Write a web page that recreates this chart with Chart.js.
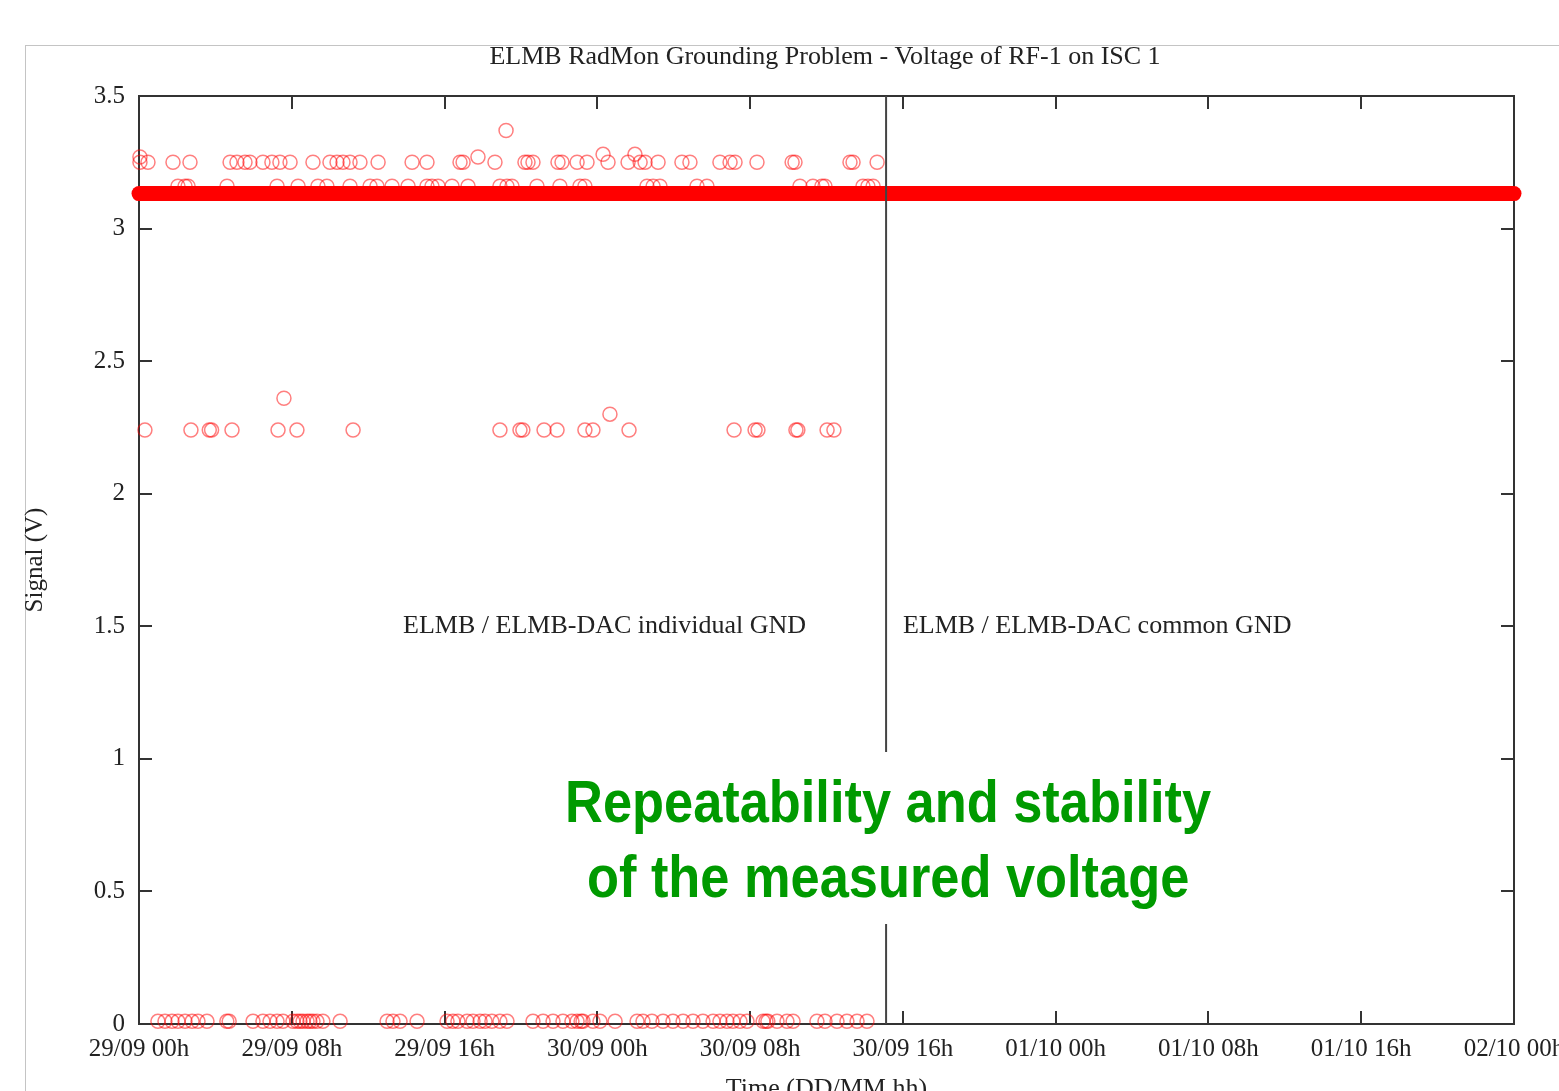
<!DOCTYPE html>
<html>
<head>
<meta charset="utf-8">
<script src="https://cdn.jsdelivr.net/npm/chart.js@4.4.0/dist/chart.umd.min.js"></script>
<style>
html,body{margin:0;padding:0;background:#fff;overflow:hidden;width:1559px;height:1091px;}
#frame{position:absolute;left:25px;top:45px;width:1600px;height:1100px;border-left:1px solid #c4c4c4;border-top:1px solid #c4c4c4;}
#cv{position:absolute;left:0;top:0;}
#note{position:absolute;left:555px;top:752px;width:666px;height:172px;background:#fff;}
.gl{position:absolute;left:455px;width:866px;text-align:center;color:#009a00;font-family:"Liberation Sans Narrow","Liberation Sans",Arial,sans-serif;font-size:60px;font-weight:bold;line-height:75px;white-space:nowrap;}
.gl span{display:inline-block;transform-origin:50% 50%;}
</style>
</head>
<body>
<div id="frame"></div>
<canvas id="cv" width="1559" height="1091"></canvas>
<div id="note"></div>
<div class="gl" style="top:764px"><span>Repeatability and stability</span></div>
<div class="gl" style="top:839px"><span>of the measured voltage</span></div>
<script>
// ---------- text ----------
const chartTitle = "ELMB RadMon Grounding Problem - Voltage of RF-1 on ISC 1";
const yAxisTitle = "Signal (V)";
const xAxisTitle = "Time (DD/MM hh)";
const regionLabels = ["ELMB / ELMB-DAC individual GND", "ELMB / ELMB-DAC common GND"];
// x tick labels (one every 8 h, starting 29/09 00h)
const xTickLabels = ["29/09 00h","29/09 08h","29/09 16h","30/09 00h","30/09 08h","30/09 16h","01/10 00h","01/10 08h","01/10 16h","02/10 00h"];
// y tick labels (one every 0.5 V, starting 0)
const yTickLabels = ["0","0.5","1","1.5","2","2.5","3","3.5"];

// ---------- data (time in hours since 29/09 00h, signal in V) ----------
// steady reading (dense band of points)
const steadyHours = [0, 72];
const steadyVolts = [3.132, 3.132];
// hour at which grounding changed from individual to common
const groundSwitchHour = [39.12, 39.12];
const groundSwitchVolts = [0, 3.5];

const highHours = [0.05,0.47,1.78,2.67,4.77,5.13,5.55,5.81,6.49,6.96,7.38,7.91,9.11,10.00,10.37,10.68,11.05,11.57,12.52,14.30,15.08,16.81,16.97,18.64,20.21,20.37,20.63,21.94,22.15,22.94,23.46,24.56,25.61,26.24,26.50,27.18,28.43,28.85,30.42,30.95,31.21,32.36,34.20,34.35,37.23,37.39,38.65];
const highVolts = [3.25,3.25,3.25,3.25,3.25,3.25,3.25,3.25,3.25,3.25,3.25,3.25,3.25,3.25,3.25,3.25,3.25,3.25,3.25,3.25,3.25,3.25,3.25,3.25,3.25,3.25,3.25,3.25,3.25,3.25,3.25,3.25,3.25,3.25,3.25,3.25,3.25,3.25,3.25,3.25,3.25,3.25,3.25,3.25,3.25,3.25,3.25];

const nearHours = [2.04,2.41,2.57,4.61,7.23,8.33,9.37,9.84,11.05,12.10,12.46,13.25,14.09,15.08,15.34,15.66,16.39,17.23,18.90,19.27,19.53,20.84,22.04,23.09,23.35,26.60,26.92,27.28,29.22,29.74,34.61,35.29,35.76,35.92,37.91,38.17,38.44];
const nearVolts = [3.16,3.16,3.16,3.16,3.16,3.16,3.16,3.16,3.16,3.16,3.16,3.16,3.16,3.16,3.16,3.16,3.16,3.16,3.16,3.16,3.16,3.16,3.16,3.16,3.16,3.16,3.16,3.16,3.16,3.16,3.16,3.16,3.16,3.16,3.16,3.16,3.16];

const outlierHours = [0.05,17.75,24.30,25.97,19.22,7.59,24.66];
const outlierVolts = [3.27,3.27,3.28,3.28,3.37,2.36,2.30];

const midHours = [0.31,2.72,3.68,3.80,4.87,7.28,8.27,11.21,18.90,19.95,20.10,21.21,21.89,23.35,23.77,25.66,31.16,32.26,32.41,34.40,34.50,36.03,36.39];
const midVolts = [2.24,2.24,2.24,2.24,2.24,2.24,2.24,2.24,2.24,2.24,2.24,2.24,2.24,2.24,2.24,2.24,2.24,2.24,2.24,2.24,2.24,2.24,2.24];

const zeroHours = [0.99,1.36,1.73,2.04,2.41,2.78,3.09,3.56,4.60,4.72,5.97,6.49,6.86,7.23,7.54,8.06,8.27,8.43,8.59,8.80,8.95,9.11,9.32,9.63,10.53,12.99,13.30,13.67,14.56,16.13,16.44,16.70,17.18,17.49,17.86,18.12,18.48,18.90,19.27,20.63,21.16,21.68,22.20,22.67,22.94,23.15,23.25,23.77,24.14,24.93,26.08,26.39,26.86,27.44,27.96,28.49,29.01,29.53,30.06,30.42,30.79,31.10,31.47,31.84,32.68,32.83,32.93,33.41,33.93,34.25,35.50,35.92,36.55,37.07,37.60,38.12];
const zeroVolts = [0.01,0.01,0.01,0.01,0.01,0.01,0.01,0.01,0.01,0.01,0.01,0.01,0.01,0.01,0.01,0.01,0.01,0.01,0.01,0.01,0.01,0.01,0.01,0.01,0.01,0.01,0.01,0.01,0.01,0.01,0.01,0.01,0.01,0.01,0.01,0.01,0.01,0.01,0.01,0.01,0.01,0.01,0.01,0.01,0.01,0.01,0.01,0.01,0.01,0.01,0.01,0.01,0.01,0.01,0.01,0.01,0.01,0.01,0.01,0.01,0.01,0.01,0.01,0.01,0.01,0.01,0.01,0.01,0.01,0.01,0.01,0.01,0.01,0.01,0.01,0.01];

// ---------- label anchors (data coordinates) ----------
const leftLabelAnchor = {x: 34.93, y: 1.5};
const rightLabelAnchor = {x: 40.0, y: 1.5};

// ---------- build ----------
const pairs = (xs, ys) => xs.map((v, i) => ({x: v, y: ys[i]}));
const SERIF = '"Liberation Serif","Times New Roman",serif';
const INK = '#222';
const circleStyle = {
  showLine: false, pointStyle: 'circle', pointRadius: 7, pointHoverRadius: 7,
  pointBorderWidth: 1.5, pointBorderColor: 'rgba(255,0,0,0.5)', pointBackgroundColor: 'rgba(0,0,0,0)', clip: false
};

const textPlugin = {
  id: 'texts',
  afterDraw(chart) {
    const {ctx, chartArea, scales: {x, y}} = chart;
    ctx.save();
    ctx.fillStyle = INK;
    ctx.font = '26px ' + SERIF;
    ctx.textBaseline = 'middle';
    ctx.textAlign = 'center';
    ctx.fillText(chartTitle, 825, 57);
    ctx.textAlign = 'right';
    ctx.fillText(regionLabels[0], x.getPixelForValue(leftLabelAnchor.x), y.getPixelForValue(leftLabelAnchor.y));
    ctx.textAlign = 'left';
    ctx.fillText(regionLabels[1], x.getPixelForValue(rightLabelAnchor.x), y.getPixelForValue(rightLabelAnchor.y));
    ctx.restore();
  }
};

const mirrorGrid = {drawOnChartArea: false, drawTicks: true, tickLength: -13, color: '#333', lineWidth: 2};
const axisBorder = {display: true, color: '#333', width: 2};

new Chart(document.getElementById('cv'), {
  type: 'scatter',
  data: {
    datasets: [
      {data: pairs(groundSwitchHour, groundSwitchVolts), showLine: true, borderColor: '#444', borderWidth: 2, pointRadius: 0, clip: false},
      {data: pairs(steadyHours, steadyVolts), showLine: true, borderColor: '#ff0000', borderWidth: 15, borderCapStyle: 'round', pointRadius: 0, clip: false},
      Object.assign({data: pairs(nearHours, nearVolts)}, circleStyle),
      Object.assign({data: pairs(highHours, highVolts)}, circleStyle),
      Object.assign({data: pairs(outlierHours, outlierVolts)}, circleStyle),
      Object.assign({data: pairs(midHours, midVolts)}, circleStyle),
      Object.assign({data: pairs(zeroHours, zeroVolts)}, circleStyle)
    ]
  },
  options: {
    responsive: false,
    animation: false,
    events: [],
    layout: {padding: {top: 96, right: 45, bottom: 0, left: 0}},
    plugins: {legend: {display: false}, tooltip: {enabled: false}, title: {display: false}},
    scales: {
      x: {
        type: 'linear', position: 'bottom', min: 0, max: 72,
        ticks: {stepSize: 8, autoSkip: false, maxRotation: 0, padding: 23, color: INK,
                font: {family: SERIF, size: 25},
                callback: (v) => xTickLabels[Math.round(v / 8)]},
        grid: mirrorGrid, border: axisBorder,
        title: {display: true, text: xAxisTitle, color: INK, font: {family: SERIF, size: 26}, padding: {top: 0, bottom: -14}},
        afterFit(s) { s.height = 67; s.paddingLeft = 0; s.paddingRight = 0; }
      },
      x2: {
        type: 'linear', position: 'top', min: 0, max: 72,
        ticks: {stepSize: 8, display: false},
        grid: mirrorGrid, border: axisBorder,
        afterFit(s) { s.height = 0; s.paddingLeft = 0; s.paddingRight = 0; }
      },
      y: {
        type: 'linear', position: 'left', min: 0, max: 3.5,
        ticks: {stepSize: 0.5, padding: 27, color: INK, font: {family: SERIF, size: 25},
                callback: (v) => yTickLabels[Math.round(v / 0.5)]},
        grid: mirrorGrid, border: axisBorder,
        title: {display: true, text: yAxisTitle, color: INK, font: {family: SERIF, size: 25}, padding: {top: 20, bottom: 0}},
        afterFit(s) { s.width = 139; s.paddingTop = 0; s.paddingBottom = 0; }
      },
      y2: {
        type: 'linear', position: 'right', min: 0, max: 3.5,
        ticks: {stepSize: 0.5, display: false},
        grid: mirrorGrid, border: axisBorder,
        afterFit(s) { s.width = 0; s.paddingTop = 0; s.paddingBottom = 0; }
      }
    }
  },
  plugins: [textPlugin]
});

// fit the green annotation to its width in the reference
(function () {
  const c = document.createElement('canvas').getContext('2d');
  c.font = 'bold 60px "Liberation Sans Narrow","Liberation Sans",Arial,sans-serif';
  const w = c.measureText('Repeatability and stability').width;
  const sx = 646 / w;
  document.querySelectorAll('.gl span').forEach(s => { s.style.transform = 'scaleX(' + sx + ')'; });
})();
</script>
</body>
</html>
